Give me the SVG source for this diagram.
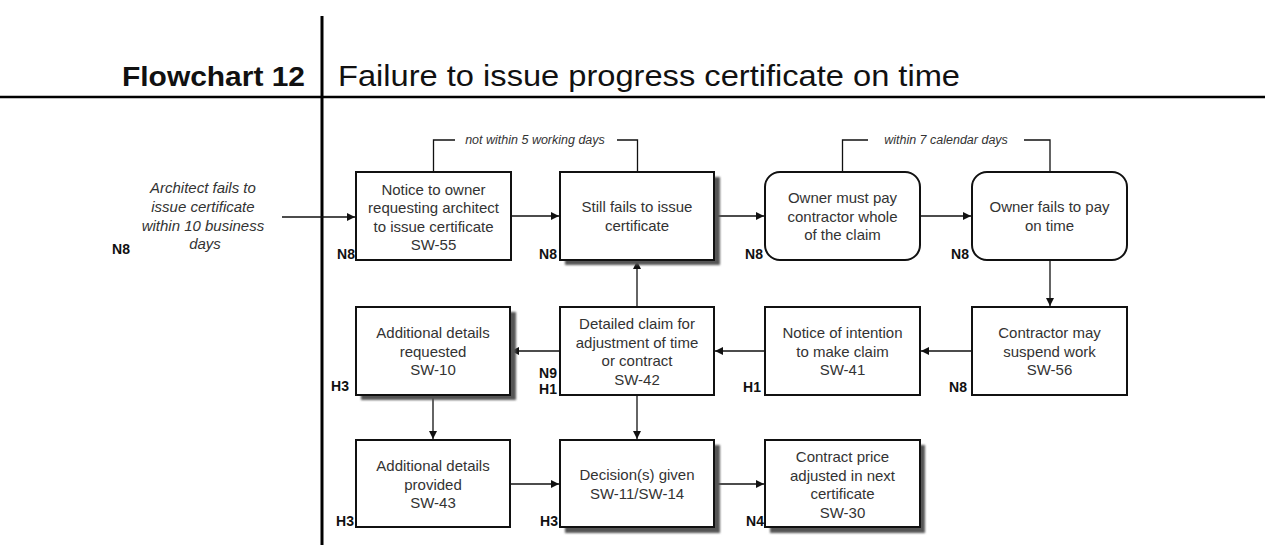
<svg xmlns="http://www.w3.org/2000/svg" width="1265" height="545" viewBox="0 0 1265 545">
  <defs>
    <marker id="arrow" viewBox="0 0 10 10" refX="10" refY="5" markerWidth="8" markerHeight="8" markerUnits="userSpaceOnUse" orient="auto">
      <path d="M0,0 L10,5 L0,10 z" fill="#111"/>
    </marker>
    <filter id="soft" x="-10%" y="-10%" width="120%" height="120%">
      <feGaussianBlur stdDeviation="1.3"/>
    </filter>
    <style>
      .box { fill: #fff; stroke: #111; stroke-width: 2; }
      .shadow { fill: #555; filter: url(#soft); }
      .txt { font-family: "Liberation Sans", Arial, sans-serif; font-size: 15px; fill: #333; text-anchor: middle; }
      .it { font-family: "Liberation Sans", Arial, sans-serif; font-style: italic; fill: #333; }
      .tag { font-family: "Liberation Sans", Arial, sans-serif; font-size: 14px; font-weight: bold; fill: #111; text-anchor: end; }
      .conn { fill: none; stroke: #111; stroke-width: 1.3; }
      .rule { stroke: #000; fill: none; }
    </style>
  </defs>

  <rect width="1265" height="545" fill="#fff"/>

  <!-- header -->
  <g id="header">
    <line class="rule" x1="322" y1="16" x2="322" y2="545" stroke-width="3"/>
    <line class="rule" x1="0" y1="97" x2="1265" y2="97" stroke-width="2.5"/>
    <text x="305" y="86" text-anchor="end" font-family="Liberation Sans, Arial, sans-serif" font-weight="bold" font-size="28" fill="#111" textLength="183" lengthAdjust="spacingAndGlyphs">Flowchart 12</text>
    <text x="338" y="86" font-family="Liberation Sans, Arial, sans-serif" font-size="29" fill="#111" textLength="622" lengthAdjust="spacingAndGlyphs">Failure to issue progress certificate on time</text>
  </g>

  <!-- connectors -->
  <g id="connectors">
    <line class="conn" x1="282" y1="217" x2="355" y2="217" marker-end="url(#arrow)"/>
    <line class="conn" x1="511" y1="216" x2="559" y2="216" marker-end="url(#arrow)"/>
    <line class="conn" x1="714" y1="216" x2="764" y2="216" marker-end="url(#arrow)"/>
    <line class="conn" x1="920" y1="216" x2="971" y2="216" marker-end="url(#arrow)"/>
    <line class="conn" x1="1050" y1="260" x2="1050" y2="306" marker-end="url(#arrow)"/>
    <line class="conn" x1="972" y1="351" x2="921" y2="351" marker-end="url(#arrow)"/>
    <line class="conn" x1="765" y1="351" x2="715" y2="351" marker-end="url(#arrow)"/>
    <line class="conn" x1="560" y1="351" x2="511" y2="351" marker-end="url(#arrow)"/>
    <line class="conn" x1="637" y1="307" x2="637" y2="261" marker-end="url(#arrow)"/>
    <line class="conn" x1="433" y1="395" x2="433" y2="439" marker-end="url(#arrow)"/>
    <line class="conn" x1="637" y1="395" x2="637" y2="439" marker-end="url(#arrow)"/>
    <line class="conn" x1="511" y1="484" x2="559" y2="484" marker-end="url(#arrow)"/>
    <line class="conn" x1="714" y1="484" x2="764" y2="484" marker-end="url(#arrow)"/>
    <!-- timing brackets -->
    <path class="conn" d="M433.5,172 V140 H455"/>
    <path class="conn" d="M617,140 H637.5 V172"/>
    <text class="it" x="535" y="144" font-size="12.5" text-anchor="middle">not within 5 working days</text>
    <path class="conn" d="M842.5,172 V140 H868"/>
    <path class="conn" d="M1024,140 H1050 V172"/>
    <text class="it" x="946" y="144" font-size="12.5" text-anchor="middle">within 7 calendar days</text>
  </g>

  <!-- start condition -->
  <g id="start">
    <text class="it" font-size="15" text-anchor="middle">
      <tspan x="205" y="193">Architect fails to</tspan>
      <tspan x="205" y="212">issue certificate</tspan>
      <tspan x="205" y="231">within  10 business</tspan>
      <tspan x="205" y="249">days</tspan>
    </text>
    <text class="tag" x="130" y="254">N8</text>
  </g>

  <g id="n-sw55">
    <rect class="box" x="356" y="172" width="155" height="88"/>
    <text class="txt"><tspan x="433.5" y="194.5">Notice to owner</tspan><tspan x="433.5" y="213">requesting architect</tspan><tspan x="433.5" y="231.5">to issue certificate</tspan><tspan x="433.5" y="250">SW-55</tspan></text>
    <text class="tag" x="355" y="259">N8</text>
  </g>

  <g id="n-still-fails">
    <rect class="shadow" x="565" y="177" width="155" height="88"/>
    <rect class="box" x="560" y="172" width="154" height="88"/>
    <text class="txt"><tspan x="637" y="212">Still fails to issue</tspan><tspan x="637" y="231">certificate</tspan></text>
    <text class="tag" x="557" y="259">N8</text>
  </g>

  <g id="n-owner-pay">
    <rect class="box" x="765" y="172" width="155" height="88" rx="15"/>
    <text class="txt"><tspan x="842.5" y="203">Owner must pay</tspan><tspan x="842.5" y="221.5">contractor whole</tspan><tspan x="842.5" y="240">of the claim</tspan></text>
    <text class="tag" x="763" y="259">N8</text>
  </g>

  <g id="n-owner-fails">
    <rect class="box" x="972" y="172" width="155" height="88" rx="15"/>
    <text class="txt"><tspan x="1049.5" y="212">Owner fails to pay</tspan><tspan x="1049.5" y="231">on time</tspan></text>
    <text class="tag" x="969" y="259">N8</text>
  </g>

  <g id="n-sw56">
    <rect class="box" x="972" y="307" width="155" height="88"/>
    <text class="txt"><tspan x="1049.5" y="338">Contractor may</tspan><tspan x="1049.5" y="356.5">suspend work</tspan><tspan x="1049.5" y="375">SW-56</tspan></text>
    <text class="tag" x="967" y="392">N8</text>
  </g>

  <g id="n-sw41">
    <rect class="box" x="765" y="307" width="155" height="88"/>
    <text class="txt"><tspan x="842.5" y="338">Notice of intention</tspan><tspan x="842.5" y="356.5">to make claim</tspan><tspan x="842.5" y="375">SW-41</tspan></text>
    <text class="tag" x="761" y="392">H1</text>
  </g>

  <g id="n-sw42">
    <rect class="box" x="560" y="307" width="154" height="88"/>
    <text class="txt"><tspan x="637" y="329">Detailed claim for</tspan><tspan x="637" y="347.5">adjustment  of time</tspan><tspan x="637" y="366">or contract</tspan><tspan x="637" y="384.5">SW-42</tspan></text>
    <text class="tag" x="557" y="378">N9</text>
    <text class="tag" x="557" y="394">H1</text>
  </g>

  <g id="n-sw10">
    <rect class="shadow" x="361" y="312" width="155" height="88"/>
    <rect class="box" x="356" y="307" width="154" height="88"/>
    <text class="txt"><tspan x="433" y="338">Additional details</tspan><tspan x="433" y="356.5">requested</tspan><tspan x="433" y="375">SW-10</tspan></text>
    <text class="tag" x="349" y="391">H3</text>
  </g>

  <g id="n-sw43">
    <rect class="box" x="356" y="440" width="154" height="87"/>
    <text class="txt"><tspan x="433" y="471">Additional details</tspan><tspan x="433" y="489.5">provided</tspan><tspan x="433" y="508">SW-43</tspan></text>
    <text class="tag" x="354" y="526">H3</text>
  </g>

  <g id="n-decision">
    <rect class="shadow" x="565" y="445" width="155" height="88"/>
    <rect class="box" x="560" y="440" width="154" height="87"/>
    <text class="txt"><tspan x="637" y="480">Decision(s) given</tspan><tspan x="637" y="499">SW-11/SW-14</tspan></text>
    <text class="tag" x="558" y="526">H3</text>
  </g>

  <g id="n-sw30">
    <rect class="shadow" x="770" y="445" width="155" height="88"/>
    <rect class="box" x="765" y="440" width="155" height="87"/>
    <text class="txt"><tspan x="842.5" y="462">Contract price</tspan><tspan x="842.5" y="480.5">adjusted in next</tspan><tspan x="842.5" y="499">certificate</tspan><tspan x="842.5" y="517.5">SW-30</tspan></text>
    <text class="tag" x="764" y="526">N4</text>
  </g>
</svg>
